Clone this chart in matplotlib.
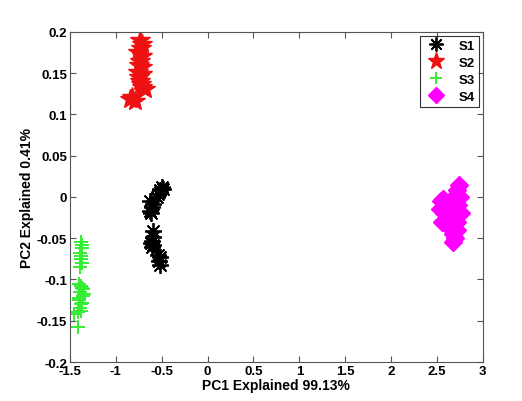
import matplotlib
matplotlib.use("Agg")
from matplotlib import pyplot as plt

plt.rcParams['font.family'] = ['Liberation Sans', 'DejaVu Sans']
plt.rcParams['font.weight'] = 'bold'

# scores on the first two principal components
s1_x = [-0.50, -0.54, -0.52, -0.49, -0.55, -0.63, -0.61, -0.63, -0.60, -0.62,
        -0.60, -0.61, -0.60, -0.61, -0.59, -0.62, -0.52, -0.53, -0.52, -0.54]
s1_y = [0.012, 0.004, 0.008, 0.010, 0.000, -0.005, -0.012, -0.017, -0.008, -0.020,
        -0.041, -0.053, -0.058, -0.061, -0.048, -0.056, -0.073, -0.078, -0.083, -0.070]

s2_x = [-0.74, -0.72, -0.76, -0.72, -0.74, -0.76, -0.71, -0.74, -0.68, -0.71,
        -0.85, -0.79, -0.73, -0.75, -0.72, -0.75, -0.73, -0.82]
s2_y = [0.190, 0.185, 0.176, 0.171, 0.165, 0.152, 0.149, 0.141, 0.131, 0.133,
        0.119, 0.116, 0.181, 0.160, 0.158, 0.145, 0.137, 0.121]

s3_x = [-1.38, -1.37, -1.39, -1.38, -1.37, -1.39, -1.38, -1.37,
        -1.40, -1.37, -1.39, -1.36, -1.40, -1.38, -1.39, -1.41, -1.35, -1.37,
        -1.38, -1.36, -1.40, -1.38, -1.46, -1.41]
s3_y = [-0.055, -0.062, -0.068, -0.075, -0.080, -0.085, -0.072, -0.058,
        -0.105, -0.110, -0.115, -0.120, -0.125, -0.130, -0.135, -0.140, -0.118, -0.128,
        -0.108, -0.112, -0.122, -0.138, -0.142, -0.158]

s4_x = [2.74, 2.72, 2.75, 2.73, 2.76, 2.72, 2.54, 2.57, 2.53, 2.58, 2.55, 2.60,
        2.65, 2.63, 2.66, 2.68, 2.70, 2.67, 2.72, 2.62, 2.69, 2.64]
s4_y = [0.015, 0.008, 0.000, -0.010, -0.020, -0.030, -0.005, -0.002, -0.015, -0.020,
        -0.030, -0.012, -0.008, -0.025, -0.038, -0.045, -0.050, -0.055, -0.040, -0.035,
        -0.015, -0.005]

fig = plt.figure(figsize=(5.22, 4.02), dpi=100)
ax = fig.add_axes([0.134, 0.097, 0.791, 0.821])

ax.plot(s1_x, s1_y, linestyle='none', marker=(8, 2, 0), color='black',
        markersize=12, markeredgewidth=1.3, label='S1')
ax.plot(s2_x, s2_y, linestyle='none', marker='*', color='#ee1111',
        markersize=15, label='S2')
ax.plot(s3_x, s3_y, linestyle='none', marker='+', color='#33ee33',
        markersize=10, markeredgewidth=1.4, label='S3')
ax.plot(s4_x, s4_y, linestyle='none', marker='D', color='#ff00ff',
        markersize=9, label='S4')

ax.set_xlim(-1.5, 3)
ax.set_ylim(-0.2, 0.2)
ax.set_xticks([-1.5, -1, -0.5, 0, 0.5, 1, 1.5, 2, 2.5, 3])
ax.set_xticklabels(['-1.5', '-1', '-0.5', '0', '0.5', '1', '1.5', '2', '2.5', '3'])
ax.set_yticks([-0.2, -0.15, -0.1, -0.05, 0, 0.05, 0.1, 0.15, 0.2])
ax.set_yticklabels(['-0.2', '-0.15', '-0.1', '-0.05', '0', '0.05', '0.1', '0.15', '0.2'])
ax.tick_params(direction='in', top=True, right=True, length=4, labelsize=9.5,
               color='#555555', pad=2)
for sp in ax.spines.values():
    sp.set_color('#555555')

ax.set_xlabel('PC1 Explained 99.13%', fontsize=10, fontweight='bold', labelpad=1)
ax.set_ylabel('PC2 Explained 0.41%', fontsize=10, fontweight='bold', labelpad=2)

leg = ax.legend(loc='upper right', fontsize=9.5, frameon=True, fancybox=False,
                edgecolor='black', handletextpad=0.8, borderpad=0.3,
                labelspacing=0.35, borderaxespad=0.3, handlelength=1.8,
                markerscale=0.85)
leg.get_frame().set_linewidth(0.8)

fig.savefig('out.png', dpi=100)
